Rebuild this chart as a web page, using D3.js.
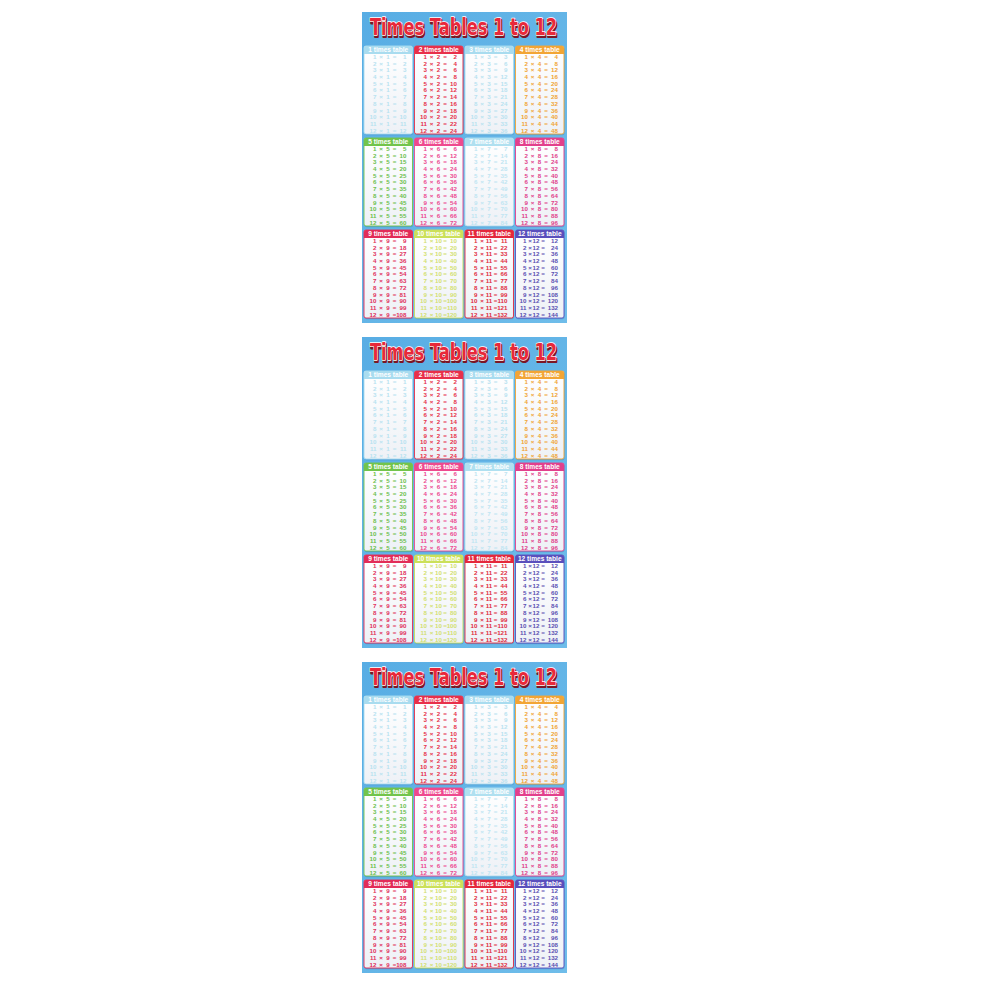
<!DOCTYPE html>
<html><head><meta charset="utf-8">
<script src="https://cdn.jsdelivr.net/npm/d3@7/dist/d3.min.js"></script>
<style>html,body{margin:0;padding:0;background:#fff;}svg{display:block;}</style>
</head><body>
<script>
const title = "Times Tables 1 to 12";
const posters = [0, 1, 2];
const tables = [1, 2, 3, 4, 5, 6, 7, 8, 9, 10, 11, 12];
const multipliers = [1, 2, 3, 4, 5, 6, 7, 8, 9, 10, 11, 12];
const headerLabels = ["1 times table","2 times table","3 times table","4 times table","5 times table","6 times table","7 times table","8 times table","9 times table","10 times table","11 times table","12 times table"];
const products = [
  [1,2,3,4,5,6,7,8,9,10,11,12],
  [2,4,6,8,10,12,14,16,18,20,22,24],
  [3,6,9,12,15,18,21,24,27,30,33,36],
  [4,8,12,16,20,24,28,32,36,40,44,48],
  [5,10,15,20,25,30,35,40,45,50,55,60],
  [6,12,18,24,30,36,42,48,54,60,66,72],
  [7,14,21,28,35,42,49,56,63,70,77,84],
  [8,16,24,32,40,48,56,64,72,80,88,96],
  [9,18,27,36,45,54,63,72,81,90,99,108],
  [10,20,30,40,50,60,70,80,90,100,110,120],
  [11,22,33,44,55,66,77,88,99,110,121,132],
  [12,24,36,48,60,72,84,96,108,120,132,144]
];
const headerColors = ["#a9dcef","#e8304a","#a9dcef","#f2a535","#72c44c","#ee4a8e","#b0e0f0","#e2408c","#e22c58","#cbe05a","#e4283c","#5a4fbc"];
const textColors   = ["#b8e2f0","#e6304a","#b8e2f0","#f0a434","#6cc04c","#ec4890","#bfe5f2","#e0408a","#e0305a","#d2e070","#e02c3e","#5a50b2"];

const W = 990, H = 990;
const svg = d3.select("body").append("svg").attr("width", W).attr("height", H);
const defs = svg.append("defs");
const grad = defs.append("linearGradient").attr("id","bg").attr("x1","0").attr("y1","0").attr("x2","1").attr("y2","1");
grad.append("stop").attr("offset","0").attr("stop-color","#58ade4");
grad.append("stop").attr("offset","1").attr("stop-color","#6fbdea");
const cgrad = defs.append("linearGradient").attr("id","card").attr("x1","0").attr("y1","0").attr("x2","0").attr("y2","1");
cgrad.append("stop").attr("offset","0").attr("stop-color","#ffffff");
cgrad.append("stop").attr("offset","1").attr("stop-color","#eef1f6");

// scales
const posterTop = d3.scaleLinear().domain([0, 1]).range([12, 337]);
const posterLeft = 362, posterW = 205, posterH = 311;
const colX = d3.scaleBand().domain([0,1,2,3]).range([364, 564]).paddingInner(0.04);
const rowY = d3.scaleBand().domain([0,1,2]).range([34, 306]).paddingInner(0.0435);
const headerH = 8;
const lineY = d3.scaleBand().domain(multipliers).range([7.4, 7.4 + 12 * 6.7]);
const layoutStd = {a: 12.5, x: 17, n: 24, eq: 30.6, p: 42.5};
const layout12  = {a: 11, x: 14.6, n: 20.5, eq: 27.5, p: 42.5};

const font = "'Liberation Sans', Arial, sans-serif";

const P = svg.selectAll("g.poster").data(posters).join("g")
  .attr("class","poster")
  .attr("transform", d => `translate(0,${posterTop(d)})`);

P.append("rect").attr("x", posterLeft).attr("y", 0).attr("width", posterW).attr("height", posterH)
  .attr("fill", "url(#bg)");

// title
const tx = posterLeft + posterW / 2 - 1;
P.append("text").attr("x", tx + 1).attr("y", 24.5)
  .attr("text-anchor","middle").attr("font-family","'DejaVu Sans', sans-serif").attr("font-weight","bold")
  .attr("font-size", 23).attr("textLength", 187).attr("lengthAdjust","spacingAndGlyphs")
  .attr("fill","#7c1624").attr("stroke","#7c1624").attr("stroke-width",2.2).attr("stroke-linejoin","round")
  .text(title);
P.append("text").attr("x", tx).attr("y", 23)
  .attr("text-anchor","middle").attr("font-family","'DejaVu Sans', sans-serif").attr("font-weight","bold")
  .attr("font-size", 23).attr("textLength", 187).attr("lengthAdjust","spacingAndGlyphs")
  .attr("fill","#e8283a").attr("stroke","#ffffff").attr("stroke-width",1.6).attr("stroke-linejoin","round")
  .attr("paint-order","stroke")
  .text(title);

// cards
const cards = P.selectAll("g.card").data(tables.map((t, i) => ({t, i}))).join("g")
  .attr("class","card")
  .attr("transform", d => `translate(${colX(d.i % 4)},${rowY(Math.floor(d.i / 4))})`);

const cw = colX.bandwidth(), ch = rowY.bandwidth();
cards.append("rect").attr("x", 0.5).attr("y", 1.2).attr("width", cw).attr("height", ch)
  .attr("rx", 2).attr("fill", "#3f86c0").attr("opacity", 0.45);
cards.append("rect").attr("x", 0).attr("y", 0).attr("width", cw).attr("height", ch)
  .attr("rx", 2).attr("fill", "url(#card)")
  .attr("stroke", d => headerColors[d.i]).attr("stroke-width", 0.9);
cards.append("path")
  .attr("d", `M0,${headerH} V2 Q0,0 2,0 H${cw-2} Q${cw},0 ${cw},2 V${headerH} Z`)
  .attr("fill", d => headerColors[d.i]);
cards.append("text").attr("x", cw / 2).attr("y", headerH - 1.6)
  .attr("text-anchor","middle").attr("font-family", font).attr("font-weight","bold")
  .attr("font-size", 6.6).attr("fill","#ffffff")
  .text(d => headerLabels[d.i]);

const lines = cards.selectAll("g.line").data(d => multipliers.map((m, k) => ({m, t: d.t, p: products[d.i][k], c: textColors[d.i], L: d.t === 12 ? layout12 : layoutStd})))
  .join("g").attr("class","line")
  .attr("transform", d => `translate(0,${lineY(d.m) + lineY.bandwidth() / 2 + 2.2})`)
  .attr("font-family", font).attr("font-weight","bold").attr("font-size", 6.2)
  .attr("fill", d => d.c);
lines.append("text").attr("x", d => d.L.a).attr("text-anchor","end").text(d => d.m);
lines.append("text").attr("x", d => d.L.x).attr("text-anchor","middle").text("×");
lines.append("text").attr("x", d => d.L.n).attr("text-anchor","middle").text(d => d.t);
lines.append("text").attr("x", d => d.L.eq).attr("text-anchor","middle").text("=");
lines.append("text").attr("x", d => d.L.p).attr("text-anchor","end").text(d => d.p);
</script>
</body></html>
